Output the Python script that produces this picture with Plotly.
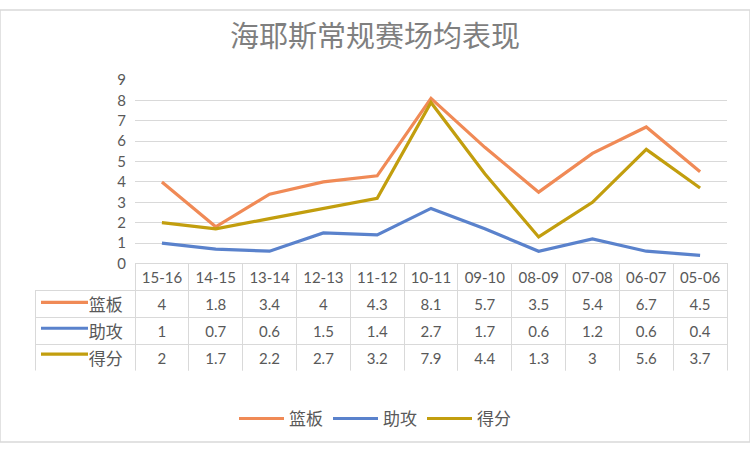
import plotly.graph_objects as go
from plotly.subplots import make_subplots

# ── data ────────────────────────────────────────────────────────────────
seasons = ["15-16", "14-15", "13-14", "12-13", "11-12", "10-11",
           "09-10", "08-09", "07-08", "06-07", "05-06"]
rebounds = [4, 1.8, 3.4, 4, 4.3, 8.1, 5.7, 3.5, 5.4, 6.7, 4.5]
assists = [1, 0.7, 0.6, 1.5, 1.4, 2.7, 1.7, 0.6, 1.2, 0.6, 0.4]
points = [2, 1.7, 2.2, 2.7, 3.2, 7.9, 4.4, 1.3, 3, 5.6, 3.7]
series_names = ["篮板", "助攻", "得分"]

COLORS = ["#F08A56", "#5A82CC", "#C29E0E"]
GRID = "#d9d9d9"
TEXT = "#595959"
FONT = "Lato, Noto Sans CJK SC, sans-serif"

W, H = 750, 450
px_x = lambda p: p / W
px_y = lambda p: 1 - p / H

TABLE_TOP, ROW_H = 264, 27
n_cols = len(seasons)

fig = make_subplots(rows=2, cols=1, specs=[[{"type": "xy"}], [{"type": "table"}]])

# ── lines ───────────────────────────────────────────────────────────────
for name, vals, col in zip(series_names, [rebounds, assists, points], COLORS):
    fig.add_trace(go.Scatter(
        x=seasons, y=vals, name=name, mode="lines",
        line=dict(color=col, width=3.2),
    ), row=1, col=1)

# ── data table under the plot ───────────────────────────────────────────
cols = [[n + " " for n in series_names]] + [[r, a, p] for r, a, p in zip(rebounds, assists, points)]
fig.add_trace(go.Table(
    columnwidth=[100] + [53.8] * n_cols,
    header=dict(
        values=[""] + seasons,
        height=ROW_H,
        align="center",
        line=dict(color=["rgba(0,0,0,0)"] + [GRID] * n_cols, width=1),
        fill=dict(color=["rgba(0,0,0,0)"] + ["white"] * n_cols),
        font=dict(family=FONT, size=15, color=TEXT),
    ),
    cells=dict(
        values=cols,
        height=ROW_H,
        align=["right"] + ["center"] * n_cols,
        line=dict(color=GRID, width=1),
        fill=dict(color="white"),
        font=dict(family=FONT, size=[17] + [15] * n_cols, color=TEXT),
    ),
), row=2, col=1)
fig.data[-1].domain = dict(x=[px_x(35), px_x(727)],
                           y=[px_y(TABLE_TOP + 4 * ROW_H + 4), px_y(TABLE_TOP)])

# legend keys inside the table's label column
key_shapes = [
    dict(type="line", xref="paper", yref="paper",
         x0=px_x(41), x1=px_x(88),
         y0=px_y(TABLE_TOP + ROW_H * (i + 1.5)), y1=px_y(TABLE_TOP + ROW_H * (i + 1.5)),
         line=dict(color=c, width=3.2))
    for i, c in enumerate(COLORS)
]

# ── layout ──────────────────────────────────────────────────────────────
fig.update_layout(
    width=W, height=H,
    margin=dict(l=0, r=0, t=0, b=0),
    paper_bgcolor="white", plot_bgcolor="white",
    font=dict(family=FONT, color=TEXT),
    title=dict(text="海耶斯常规赛场均表现", x=0.5, xanchor="center",
               y=px_y(37), yanchor="middle",
               font=dict(family="Noto Sans CJK SC", size=29, color="#7f7f7f")),
    xaxis=dict(type="category", domain=[px_x(135), px_x(727)], range=[-0.5, 10.5],
               showticklabels=False, showgrid=False, zeroline=False,
               showline=False, fixedrange=True),
    yaxis=dict(domain=[px_y(TABLE_TOP), px_y(73)], range=[0, 9], dtick=1,
               showgrid=True, gridcolor=GRID, gridwidth=1, zeroline=False,
               showline=False, ticks="", ticklabelstandoff=8,
               tickfont=dict(size=15, color=TEXT)),
    legend=dict(orientation="h", x=0.5, xanchor="center", y=px_y(426),
                yanchor="middle", font=dict(size=17, color=TEXT),
                itemwidth=45),
    showlegend=True,
    shapes=key_shapes + [dict(type="rect", xref="paper", yref="paper",
                              x0=0, x1=1, y0=0, y1=1,
                              line=dict(color=GRID, width=1.5))],
)

fig.write_html(
    "out.html",
    config={"displayModeBar": False},
    post_script="document.body.style.margin='0';",
)
